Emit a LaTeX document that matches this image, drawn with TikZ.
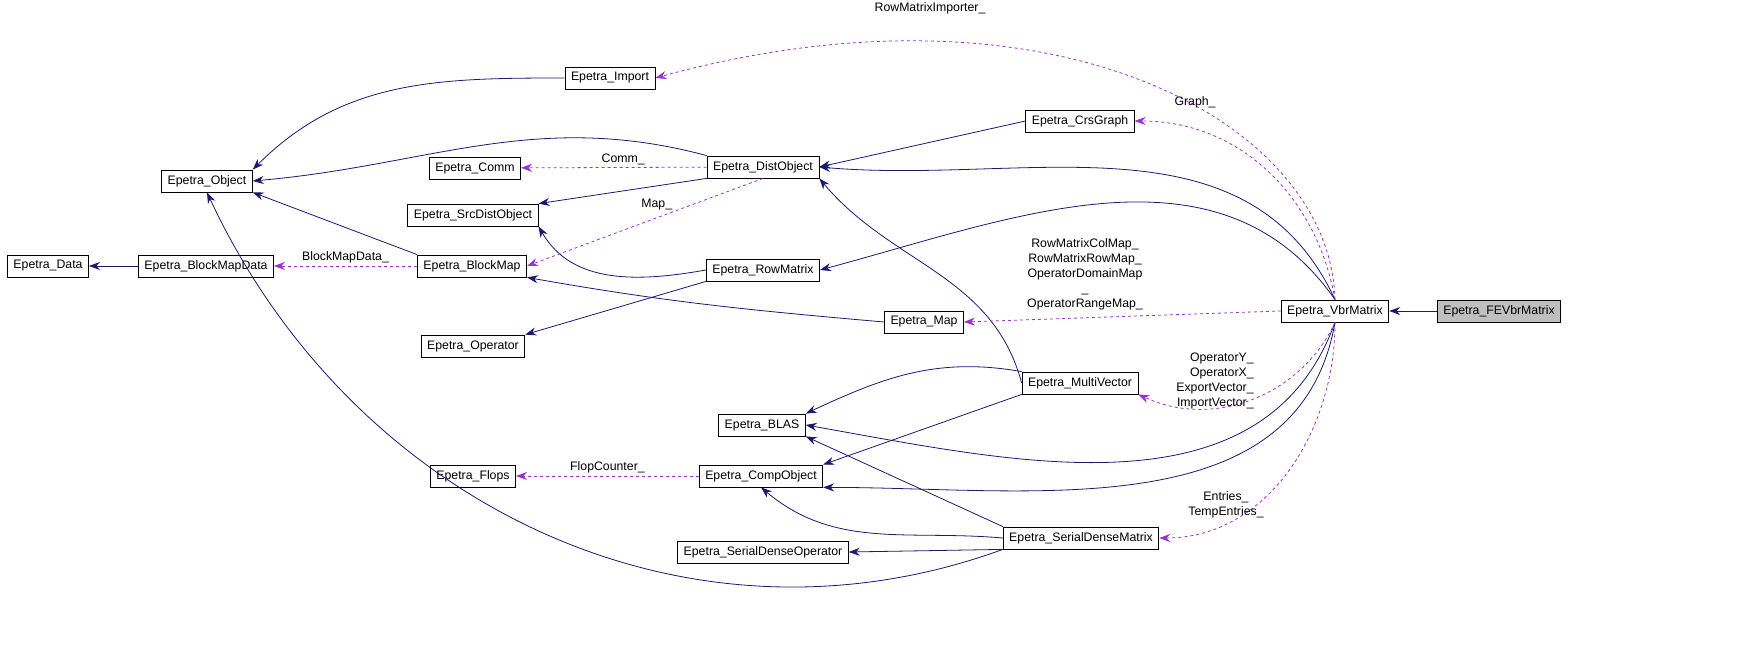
\documentclass[tikz,border=0pt]{standalone}
\usepackage{fontspec}
\setmainfont{Liberation Sans}
\usetikzlibrary{arrows.meta}
\definecolor{inh}{HTML}{191970}
\definecolor{use}{HTML}{9A32CD}
\tikzset{
  cls/.style={draw,thick,minimum height=22pt,inner xsep=6pt,font=\fontsize{12.3}{13}\selectfont},
  inh/.style={draw=inh,thick,-{Stealth[length=11pt,width=8pt]},fill=none},
  use/.style={draw=use,thick,dashed,-{Stealth[length=11pt,width=8pt]}},
  lbl/.style={font=\fontsize{12.3}{15}\selectfont,align=center}
}
\begin{document}
\begin{tikzpicture}[x=1pt,y=-1pt]
    \useasboundingbox (0,0) rectangle (1744,668);

    % Classes
    \node[cls] (data) at (48,266) {Epetra\_Data};
    \node[cls] (bmd) at (206,266) {Epetra\_BlockMapData};
    \node[cls] (obj) at (207,181) {Epetra\_Object};
    \node[cls] (bmap) at (472,266) {Epetra\_BlockMap};
    \node[cls] (imp) at (610,78) {Epetra\_Import};
    \node[cls] (comm) at (475,168) {Epetra\_Comm};
    \node[cls] (src) at (473,215) {Epetra\_SrcDistObject};
    \node[cls] (dist) at (763,167) {Epetra\_DistObject};
    \node[cls] (crs) at (1080,121) {Epetra\_CrsGraph};
    \node[cls] (rowm) at (763,270) {Epetra\_RowMatrix};
    \node[cls] (oper) at (473,346) {Epetra\_Operator};
    \node[cls] (map) at (924,322) {Epetra\_Map};
    \node[cls] (vbr) at (1335,311) {Epetra\_VbrMatrix};
    \node[cls,fill=black!25] (fevbr) at (1499,311) {Epetra\_FEVbrMatrix};
    \node[cls] (mv) at (1080,383) {Epetra\_MultiVector};
    \node[cls] (blas) at (762,425) {Epetra\_BLAS};
    \node[cls] (flops) at (473,476) {Epetra\_Flops};
    \node[cls] (comp) at (761,476) {Epetra\_CompObject};
    \node[cls] (sdm) at (1081,538) {Epetra\_SerialDenseMatrix};
    \node[cls] (sdo) at (763,552) {Epetra\_SerialDenseOperator};

    % Inheritance
    \draw[inh] (bmd) -- (data);
    \draw[inh] (imp.west) to[out=180,in=45] (obj.north east);
    \draw[inh] (dist.north west) to[out=165,in=5] (obj.east);
    \draw[inh] (bmap.north west) -- (obj.south east);
    \draw[inh] (sdm.south west) to[out=-160,in=-65] (obj.south);
    \draw[inh] (crs.west) -- (dist.east);
    \draw[inh] (dist.south west) -- (src.north east);
    \draw[inh] (rowm.west) to[out=190,in=-60] (src.south east);
    \draw[inh] (vbr.north) to[out=115,in=-5] (dist.east);
    \draw[inh] (mv.west) to[out=105,in=-50] (dist.south east);
    \draw[inh] (map.west) to[out=175,in=-10] (bmap.south east);
    \draw[inh] (rowm.south west) -- (oper.north east);
    \draw[inh] (vbr.north) to[out=125,in=15] (rowm.east);
    \draw[inh] (mv.north west) to[out=170,in=25] (blas.north east);
    \draw[inh] (mv.south west) -- (comp.north east);
    \draw[inh] (vbr.south) to[out=-110,in=-10] (blas.east);
    \draw[inh] (vbr.south) to[out=-100,in=0] (comp.south east);
    \draw[inh] (sdm.north west) -- (blas.south east);
    \draw[inh] (sdm.west) to[out=175,in=-40] (comp.south);
    \draw[inh] (sdm.south west) -- (sdo.east);
    \draw[inh] (fevbr) -- (vbr);

    % Usage
    \draw[use] (bmap) -- (bmd) node[lbl,pos=0.5,above=-1pt] {BlockMapData\_};
    \draw[use] (dist) -- (comm) node[lbl,pos=0.45,above=-1pt] {Comm\_};
    \draw[use] (dist.south) -- (bmap.east) node[lbl,pos=0.45,above=4pt] {Map\_};
    \draw[use] (vbr.north) .. controls (1330,120) and (1050,-30) .. (imp.east);
    \node[lbl] at (930,8) {RowMatrixImporter\_};
    \draw[use] (vbr.north) to[out=100,in=0] (crs.east);
    \node[lbl] at (1195,102) {Graph\_};
    \draw[use] (vbr.west) -- (map.east);
    \node[lbl] at (1085,274) {RowMatrixColMap\_\\RowMatrixRowMap\_\\OperatorDomainMap\\\_\\OperatorRangeMap\_};
    \draw[use] (vbr.south) to[out=-115,in=-25] (mv.south east);
    \node[lbl,align=right] at (1215,381) {OperatorY\_\\OperatorX\_\\ExportVector\_\\ImportVector\_};
    \draw[use] (vbr.south) to[out=-90,in=0] (sdm.east);
    \node[lbl] at (1226,505) {Entries\_\\TempEntries\_};
    \draw[use] (comp) -- (flops) node[lbl,pos=0.5,above=-1pt] {FlopCounter\_};
\end{tikzpicture}
\end{document}
